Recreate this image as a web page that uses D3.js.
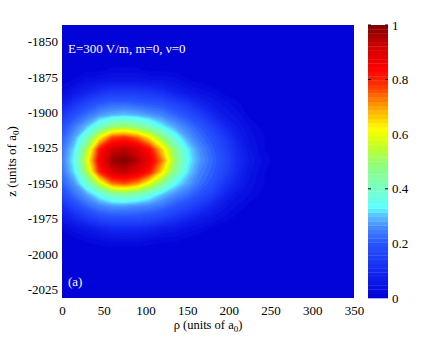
<!DOCTYPE html>
<html>
<head>
<meta charset="utf-8">
<script src="https://cdn.jsdelivr.net/npm/d3@7"></script>
<style>
body { margin: 0; background: #fff; }
text { font-family: "Liberation Serif", "DejaVu Serif", serif; font-size: 13px; }
</style>
</head>
<body>
<div id="vis"></div>
<script>
// Density grid (normalised to 1 at the peak)
const rhoGrid = [0, 15, 30, 45, 60, 75, 90, 105, 120, 135, 150, 165, 180, 195, 210, 225, 240, 255];
const zGrid = [-1862, -1870, -1878, -1886, -1894, -1902, -1910, -1918, -1926, -1934,
               -1942, -1950, -1958, -1966, -1974, -1982, -1990, -1998, -2006];
const density = [
    [0, 0, 0, 0, 0, 0, 0, 0, 0, 0, 0, 0, 0, 0, 0, 0, 0, 0],
    [0, 0, 0.01, 0.01, 0.02, 0.02, 0.02, 0.01, 0.01, 0.01, 0, 0, 0, 0, 0, 0, 0, 0],
    [0.01, 0.02, 0.04, 0.05, 0.06, 0.06, 0.06, 0.05, 0.05, 0.04, 0.02, 0.01, 0, 0, 0, 0, 0, 0],
    [0.03, 0.06, 0.09, 0.12, 0.14, 0.14, 0.14, 0.13, 0.11, 0.08, 0.06, 0.04, 0.03, 0.01, 0, 0, 0, 0],
    [0.07, 0.12, 0.17, 0.20, 0.22, 0.22, 0.21, 0.20, 0.19, 0.16, 0.13, 0.09, 0.06, 0.04, 0.02, 0, 0, 0],
    [0.13, 0.19, 0.23, 0.27, 0.29, 0.30, 0.29, 0.27, 0.25, 0.22, 0.19, 0.15, 0.10, 0.06, 0.04, 0.01, 0, 0],
    [0.18, 0.24, 0.30, 0.39, 0.48, 0.50, 0.46, 0.40, 0.33, 0.28, 0.24, 0.20, 0.15, 0.10, 0.06, 0.03, 0.01, 0],
    [0.21, 0.28, 0.41, 0.62, 0.77, 0.79, 0.74, 0.63, 0.49, 0.36, 0.28, 0.23, 0.19, 0.14, 0.08, 0.04, 0.02, 0],
    [0.23, 0.32, 0.53, 0.81, 0.92, 0.94, 0.90, 0.82, 0.65, 0.46, 0.33, 0.26, 0.21, 0.16, 0.10, 0.05, 0.02, 0],
    [0.24, 0.34, 0.59, 0.85, 0.97, 1.00, 0.95, 0.87, 0.72, 0.50, 0.34, 0.27, 0.22, 0.17, 0.11, 0.06, 0.03, 0.01],
    [0.23, 0.32, 0.53, 0.80, 0.91, 0.93, 0.89, 0.81, 0.64, 0.45, 0.32, 0.25, 0.21, 0.16, 0.10, 0.05, 0.02, 0],
    [0.21, 0.27, 0.39, 0.57, 0.73, 0.76, 0.71, 0.59, 0.46, 0.34, 0.28, 0.23, 0.19, 0.13, 0.08, 0.04, 0.02, 0],
    [0.17, 0.23, 0.28, 0.35, 0.42, 0.44, 0.41, 0.36, 0.30, 0.26, 0.23, 0.19, 0.15, 0.09, 0.05, 0.03, 0.01, 0],
    [0.11, 0.17, 0.22, 0.25, 0.27, 0.27, 0.26, 0.25, 0.23, 0.20, 0.17, 0.13, 0.09, 0.05, 0.03, 0.01, 0, 0],
    [0.06, 0.10, 0.14, 0.18, 0.19, 0.19, 0.19, 0.18, 0.16, 0.13, 0.10, 0.07, 0.05, 0.03, 0.01, 0, 0, 0],
    [0.02, 0.04, 0.06, 0.08, 0.10, 0.10, 0.10, 0.09, 0.07, 0.06, 0.04, 0.03, 0.01, 0, 0, 0, 0, 0],
    [0, 0.01, 0.02, 0.03, 0.04, 0.04, 0.04, 0.03, 0.02, 0.02, 0.01, 0, 0, 0, 0, 0, 0, 0],
    [0, 0, 0, 0, 0, 0, 0, 0, 0, 0, 0, 0, 0, 0, 0, 0, 0, 0],
    [0, 0, 0, 0, 0, 0, 0, 0, 0, 0, 0, 0, 0, 0, 0, 0, 0, 0]
];

// Axis ticks
const xTicks = [0, 50, 100, 150, 200, 250, 300, 350];
const zTicks = [-1850, -1875, -1900, -1925, -1950, -1975, -2000, -2025];
const cbTicks = [0, 0.2, 0.4, 0.6, 0.8, 1];
const cbTickMarks = [0.4, 0.8, 1];

// Colormap (jet-like, 64 levels)
const cmapStops = [0, 0.10, 0.20, 0.26, 0.30, 0.33, 0.40, 0.50, 0.56, 0.62, 0.70, 0.78, 0.84, 0.92, 1];
const cmapColors = ['#0000d6', '#1428f2', '#2855ff', '#468cff', '#5abeff', '#5affff', '#78ffc8',
                    '#96ff6e', '#c8ff1e', '#ffff00', '#ffa000', '#ff3200', '#ff0000', '#d20000', '#800000'];
const nLevels = 64;

// Layout
const W = 447, H = 337;
const plot = { left: 62, right: 354, top: 25, bottom: 298 };
const cb = { left: 368, right: 388 };

const svg = d3.select('#vis')
    .append('svg')
    .attr('width', W)
    .attr('height', H);

const xScale = d3.scaleLinear().domain([0, 350]).range([plot.left, plot.right]);
const yScale = d3.scaleLinear().domain([-1838.4, -2031]).range([plot.top, plot.bottom]);
const cbScale = d3.scaleLinear().domain([0, 1]).range([plot.bottom, plot.top]);
const cmap = d3.scaleLinear().domain(cmapStops).range(cmapColors).clamp(true);
const levelColor = k => cmap((k + 0.5) / nLevels);

// Clip for the image area
svg.append('clipPath').attr('id', 'plotClip')
    .append('rect')
    .attr('x', plot.left).attr('y', plot.top)
    .attr('width', plot.right - plot.left)
    .attr('height', plot.bottom - plot.top);

const img = svg.append('g').attr('clip-path', 'url(#plotClip)');

img.append('rect')
    .attr('x', plot.left).attr('y', plot.top)
    .attr('width', plot.right - plot.left)
    .attr('height', plot.bottom - plot.top)
    .attr('fill', levelColor(0));

// Filled contours of the density grid
const nx = rhoGrid.length, ny = zGrid.length;
const thresholds = d3.range(1, nLevels).map(k => k / nLevels);
const contours = d3.contours().size([nx, ny]).thresholds(thresholds)(density.flat());

const gx = d3.scaleLinear().domain([0.5, nx - 0.5]).range([xScale(rhoGrid[0]), xScale(rhoGrid[nx - 1])]);
const gy = d3.scaleLinear().domain([0.5, ny - 0.5]).range([yScale(zGrid[0]), yScale(zGrid[ny - 1])]);
const path = d3.geoPath(d3.geoTransform({
    point: function (px, py) { this.stream.point(gx(px), gy(py)); }
}));

img.selectAll('path.level')
    .data(contours)
    .join('path')
    .attr('class', 'level')
    .attr('d', path)
    .attr('fill', d => levelColor(Math.round(d.value * nLevels)))
    .attr('stroke', d => levelColor(Math.round(d.value * nLevels)))
    .attr('stroke-width', 0.6);

// Axes
const yAxis = svg.append('g')
    .attr('transform', `translate(${plot.left},0)`)
    .call(d3.axisLeft(yScale).tickValues(zTicks).tickSize(0).tickPadding(4).tickFormat(d => String(d)));

const xAxis = svg.append('g')
    .attr('transform', `translate(0,${plot.bottom})`)
    .call(d3.axisBottom(xScale).tickValues(xTicks).tickSize(0).tickPadding(8));

[xAxis, yAxis].forEach(a => {
    a.select('.domain').remove();
    a.attr('font-family', null).attr('font-size', null);
    a.selectAll('text').attr('fill', '#000');
});

// Axis labels
const xLabel = svg.append('text')
    .attr('x', (plot.left + plot.right) / 2)
    .attr('y', 329)
    .attr('text-anchor', 'middle')
    .style('font-size', '12.5px');
xLabel.append('tspan').text('ρ (units of a');
xLabel.append('tspan').attr('dy', 3).attr('font-size', '9px').text('0');
xLabel.append('tspan').attr('dy', -3).text(')');

const yLabel = svg.append('text')
    .attr('transform', `translate(16,${(plot.top + plot.bottom) / 2}) rotate(-90)`)
    .attr('text-anchor', 'middle');
yLabel.append('tspan').text('z (units of a');
yLabel.append('tspan').attr('dy', 3).attr('font-size', '9px').text('0');
yLabel.append('tspan').attr('dy', -3).text(')');

// Annotations
svg.append('text')
    .attr('x', 68).attr('y', 53)
    .attr('fill', '#fff')
    .text('E=300 V/m, m=0, ν=0');

svg.append('text')
    .attr('x', 68).attr('y', 286)
    .attr('fill', '#fff')
    .text('(a)');

// Colorbar
const cbLevels = d3.range(nLevels);
svg.append('g').selectAll('rect')
    .data(cbLevels)
    .join('rect')
    .attr('x', cb.left)
    .attr('width', cb.right - cb.left)
    .attr('y', k => cbScale((k + 1) / nLevels))
    .attr('height', k => cbScale(k / nLevels) - cbScale((k + 1) / nLevels) + 0.3)
    .attr('fill', k => levelColor(k));

svg.append('g').selectAll('line')
    .data(cbTickMarks.flatMap(v => [[cb.left, cb.left + 3, v], [cb.right - 3, cb.right, v]]))
    .join('line')
    .attr('x1', d => d[0]).attr('x2', d => d[1])
    .attr('y1', d => cbScale(d[2])).attr('y2', d => cbScale(d[2]))
    .attr('stroke', '#000');

const cbAxis = svg.append('g')
    .attr('transform', `translate(${cb.right},0)`)
    .call(d3.axisRight(cbScale).tickValues(cbTicks).tickSize(0).tickPadding(4).tickFormat(d => String(d)));
cbAxis.select('.domain').remove();
cbAxis.attr('font-family', null).attr('font-size', null);
cbAxis.selectAll('text').attr('fill', '#000');
</script>
</body>
</html>
